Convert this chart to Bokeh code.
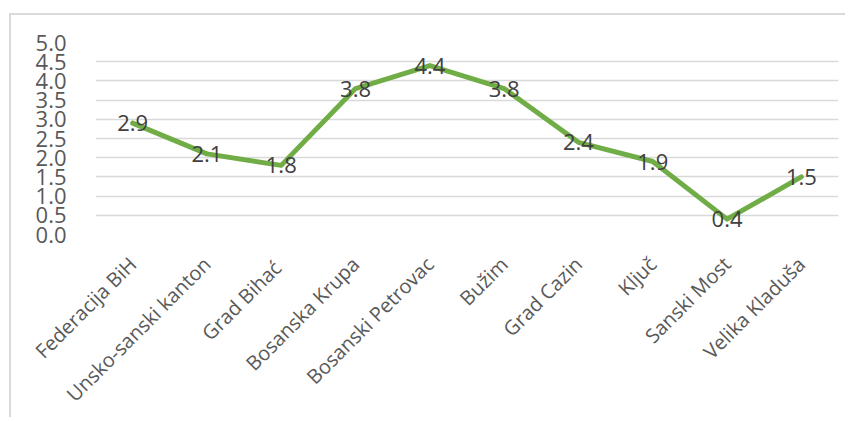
from bokeh.plotting import figure
from bokeh.models import ColumnDataSource, FixedTicker, FactorRange, Range1d, CustomJSTickFormatter
from bokeh.core.properties import value
from bokeh.embed import file_html
from bokeh.resources import INLINE
import math

categories = ["Federacija BiH", "Unsko-sanski kanton", "Grad  Bihać", "Bosanska Krupa",
              "Bosanski Petrovac", "Bužim", "Grad Cazin", "Ključ", "Sanski Most", "Velika Kladuša"]
values = [2.9, 2.1, 1.8, 3.8, 4.4, 3.8, 2.4, 1.9, 0.4, 1.5]
labels = ["2.9", "2.1", "1.8", "3.8", "4.4", "3.8", "2.4", "1.9", "0.4", "1.5"]
y_ticks = [0.0, 0.5, 1.0, 1.5, 2.0, 2.5, 3.0, 3.5, 4.0, 4.5, 5.0]

src = ColumnDataSource(dict(x=categories, y=values, t=labels))

W, H = 836, 404
p = figure(x_range=FactorRange(*categories, range_padding=0), y_range=Range1d(0, 5),
           width=W, height=H, output_backend="svg", toolbar_location=None,
           min_border_left=84, min_border_right=9, min_border_top=27, min_border_bottom=100)
p.styles = {"border-left": "2px solid #d9d9d9", "border-top": "2px solid #d9d9d9",
            "margin-left": "9px", "margin-top": "13px"}
p.outline_line_color = None
p.background_fill_color = "white"
p.border_fill_color = "white"

p.xgrid.grid_line_color = None
p.ygrid.grid_line_color = "#d9d9d9"
p.ygrid.grid_line_width = 1.5

p.yaxis.ticker = FixedTicker(ticks=y_ticks)
p.yaxis.formatter = CustomJSTickFormatter(code="return tick.toFixed(1);")
p.yaxis.axis_line_color = None
p.yaxis.major_tick_line_color = None
p.yaxis.minor_tick_line_color = None
p.yaxis.major_label_text_font = "Open Sans"
p.yaxis.major_label_text_font_size = "22px"
p.yaxis.major_label_text_color = "#595959"
p.yaxis.major_label_standoff = 23

p.xaxis.axis_line_color = None
p.xaxis.major_tick_line_color = None
p.xaxis.major_label_orientation = math.pi / 4
p.xaxis.major_label_text_font = "Open Sans"
p.xaxis.major_label_text_font_size = "20px"
p.xaxis.major_label_text_color = "#595959"
p.xaxis.major_label_standoff = 20

p.line("x", "y", source=src, line_color="#70AD47", line_width=5, line_join="round", line_cap="round")
p.text("x", "y", text="t", source=src, text_align="center", text_baseline="middle",
       text_font=value("Open Sans"), text_font_size="22px", text_color="#404040")

open("out.html", "w").write(file_html(p, INLINE))
